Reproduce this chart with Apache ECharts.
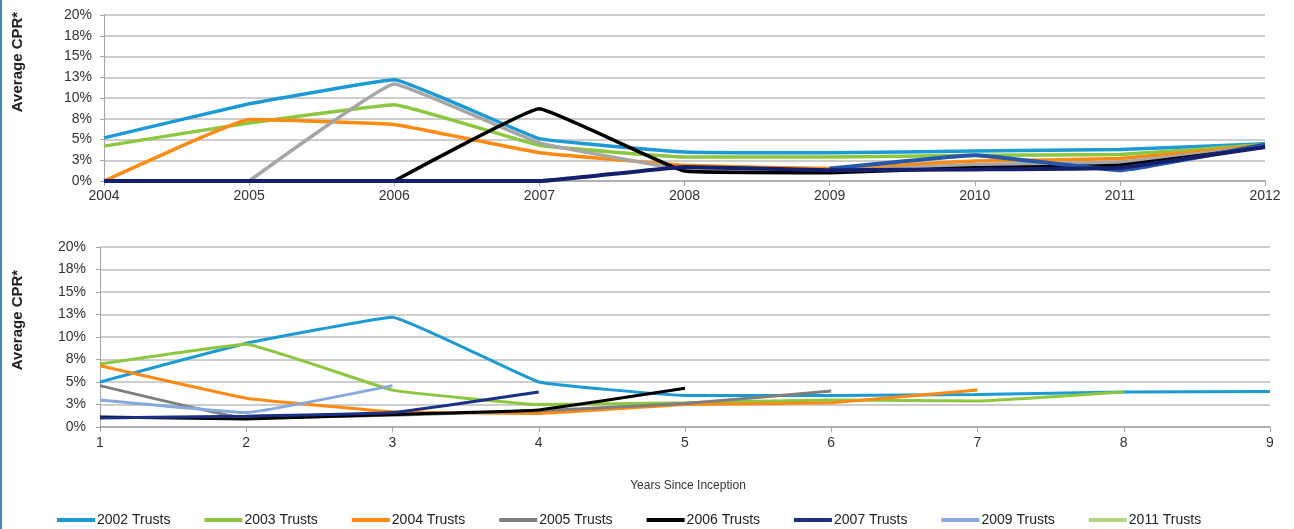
<!DOCTYPE html>
<html>
<head>
<meta charset="utf-8">
<script src="https://cdn.jsdelivr.net/npm/echarts@6/dist/echarts.min.js"></script>
<style>
  html, body { margin: 0; padding: 0; background: #fff; }
  #chart { width: 1294px; height: 529px; }
</style>
</head>
<body>
<div id="chart"></div>
<script>
// Calendar-year view (upper panel)
const calendarYears = ['2004', '2005', '2006', '2007', '2008', '2009', '2010', '2011', '2012'];
const cal2002 = [5.2, 9.3, 12.2, 5.1, 3.5, 3.4, 3.6, 3.8, 4.5];
const cal2003 = [4.2, 7.0, 9.2, 4.3, 2.9, 2.9, 3.1, 3.2, 4.4];
const cal2004 = [0, 7.4, 6.8, 3.4, 1.9, 1.5, 2.4, 2.7, 4.3];
const cal2005 = [null, 0, 11.7, 4.6, 1.4, 1.2, 2.0, 2.3, 4.2];
const cal2006 = [null, null, 0, 8.7, 1.2, 1.0, 1.6, 1.9, 4.1];
const cal2007 = [0, 0, 0, 0, 1.7, 1.3, 1.4, 1.6, 4.1];
const cal2009 = [null, null, null, null, null, 1.5, 3.1, 1.3, 4.4];

// Seasoning view (lower panel)
const seasoningYears = ['1', '2', '3', '4', '5', '6', '7', '8', '9'];
const age2002 = [5.0, 9.3, 12.2, 5.0, 3.5, 3.5, 3.6, 3.9, 3.95];
const age2003 = [7.0, 9.2, 4.1, 2.5, 2.7, 3.0, 2.9, 3.9];
const age2004 = [6.8, 3.2, 1.7, 1.5, 2.5, 2.7, 4.1];
const age2005 = [4.6, 1.0, 1.3, 1.8, 2.6, 4.0];
const age2006 = [1.1, 0.9, 1.4, 1.9, 4.3];
const age2007 = [1.0, 1.2, 1.6, 3.9];
const age2009 = [3.0, 1.6, 4.6];
const age2011 = [null];

const yTicks = { min: 0, max: 20, interval: 2.5 };

const colors = {
  '2002 Trusts': '#1b9ad6',
  '2003 Trusts': '#8dc63f',
  '2004 Trusts': '#ff8a12',
  '2005 Trusts': '#7f7f7f',
  '2006 Trusts': '#000000',
  '2007 Trusts': '#1b2f86',
  '2009 Trusts': '#86a9de',
  '2011 Trusts': '#b5d681'
};
const names = Object.keys(colors);

const font = '"Liberation Sans", Arial, sans-serif';

function line(name, data, axis, color, width) {
  return {
    name: name,
    type: 'line',
    xAxisIndex: axis,
    yAxisIndex: axis,
    data: data,
    showSymbol: false,
    symbol: 'none',
    smooth: 0.08,
    connectNulls: false,
    lineStyle: { color: color || colors[name], width: width || 3 },
    itemStyle: { color: color || colors[name] },
    emphasis: { disabled: true }
  };
}

function yAxis(gridIndex, margin) {
  return {
    type: 'value', gridIndex: gridIndex,
    min: yTicks.min, max: yTicks.max, interval: yTicks.interval,
    axisLine: { show: true, lineStyle: { color: '#a6a6a6', width: 1 } },
    axisTick: { show: true, length: 4, lineStyle: { color: '#a6a6a6' } },
    axisLabel: {
      margin: margin, fontFamily: font, fontSize: 14, color: '#333',
      formatter: v => Math.round(v) + '%'
    },
    splitLine: { show: true, lineStyle: { color: '#bdbdbd', width: 1.5 } }
  };
}

function xAxis(gridIndex, data, margin) {
  return {
    type: 'category', gridIndex: gridIndex, data: data, boundaryGap: false,
    axisLine: { show: true, lineStyle: { color: '#a6a6a6', width: 1.5 } },
    axisTick: { show: true, length: 5, lineStyle: { color: '#a6a6a6' } },
    axisLabel: { margin: margin, fontFamily: font, fontSize: 14, color: '#333' },
    splitLine: { show: false }
  };
}

const chart = echarts.init(document.getElementById('chart'), null, { renderer: 'canvas' });

chart.setOption({
  animation: false,
  backgroundColor: '#fff',
  grid: [
    { left: 104, right: 29, top: 15, height: 166 },
    { left: 100, right: 24, top: 247, height: 180 }
  ],
  xAxis: [xAxis(0, calendarYears, 8), xAxis(1, seasoningYears, 9)],
  yAxis: [yAxis(0, 12), yAxis(1, 14)],
  legend: {
    data: names,
    left: 52, top: 508,
    icon: 'rect', itemWidth: 38, itemHeight: 4, itemGap: 34,
    textStyle: { fontFamily: font, fontSize: 14, color: '#222', padding: [0, 0, 0, -3] },
    selectedMode: false
  },
  graphic: [
    { type: 'rect', left: 0, top: 0, shape: { width: 2, height: 529 }, style: { fill: '#4a86c8' } },
    {
      type: 'text', x: 18, y: 62, rotation: Math.PI / 2,
      style: { text: 'Average CPR*', fontFamily: font, fontSize: 15, fontWeight: 'bold', fill: '#222',
               align: 'center', verticalAlign: 'middle' }
    },
    {
      type: 'text', x: 18, y: 320, rotation: Math.PI / 2,
      style: { text: 'Average CPR*', fontFamily: font, fontSize: 15, fontWeight: 'bold', fill: '#222',
               align: 'center', verticalAlign: 'middle' }
    },
    {
      type: 'text', x: 688, y: 486,
      style: { text: 'Years Since Inception', fontFamily: font, fontSize: 12, fill: '#333',
               align: 'center', verticalAlign: 'middle' }
    }
  ],
  series: [
    // lower panel first so the legend takes its colours
    line('2002 Trusts', age2002, 1),
    line('2003 Trusts', age2003, 1),
    line('2004 Trusts', age2004, 1),
    line('2005 Trusts', age2005, 1),
    line('2006 Trusts', age2006, 1),
    line('2007 Trusts', age2007, 1),
    line('2009 Trusts', age2009, 1),
    line('2011 Trusts', age2011, 1),
    // upper panel
    line('2002 Trusts', cal2002, 0, null, 3.5),
    line('2003 Trusts', cal2003, 0, null, 3.5),
    line('2004 Trusts', cal2004, 0, null, 3.5),
    line('2005 Trusts', cal2005, 0, '#a6a6a6', 3.5),
    line('2006 Trusts', cal2006, 0, null, 3.5),
    line('2009 Trusts', cal2009, 0, '#2557aa', 4),
    line('2007 Trusts', cal2007, 0, '#14206e', 4)
  ]
});
</script>
</body>
</html>
